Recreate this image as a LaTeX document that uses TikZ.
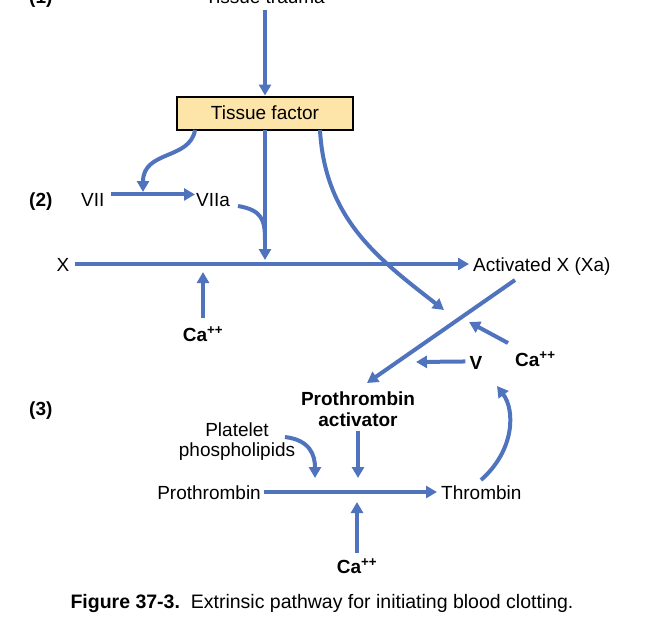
\documentclass[tikz,border=0pt]{standalone}
\usepackage{fontspec}
\setmainfont{Liberation Sans}
\usetikzlibrary{arrows.meta}
\definecolor{bl}{RGB}{80,115,190}
\definecolor{tf}{RGB}{253,228,168}
\begin{document}
\begin{tikzpicture}[x=1pt,y=-1pt,
  ar/.style={draw=bl,line width=4pt,-{Triangle[length=11pt,width=12pt]}},
  ln/.style={draw=bl,line width=4pt},
  lbl/.style={font=\fontsize{19}{21}\selectfont,inner sep=1pt},
  blbl/.style={font=\fontsize{19}{21}\selectfont\bfseries,inner sep=1pt}]
\useasboundingbox (0,0) rectangle (660,627);
\begin{scope}
\clip (0,0) rectangle (660,627);
\node[lbl,anchor=base] (tt) at (265,3) {Tissue trauma};
\node[blbl,anchor=base west] (n1) at (28,3) {(1)};
\end{scope}
\node[draw=black,line width=2pt,fill=tf,minimum width=176pt,minimum height=33pt,lbl] (tf) at (265,113) {Tissue factor};
\coordinate (t0) at (265,10);
\draw[ar] (t0) -- (tf.north);
\node[blbl,anchor=base west] (n2) at (28,206) {(2)};
\node[lbl,anchor=base west] (vii) at (80,206) {VII};
\node[lbl,anchor=base west] (viia) at (195,206) {VIIa};
\draw[ar] (vii.east) ++(5,-5) coordinate (v0) -- (viia.west |- v0);
\coordinate (a) at (195,130);
\draw[ar] (a) .. controls (190,160) and (143,150) .. (143,192);
\node[lbl,anchor=base] (X) at (63,271) {X};
\node[lbl,anchor=base west] (Xa) at (472,271) {Activated X (Xa)};
\coordinate (xs) at (75,264);
\draw[ar] (xs) -- ([xshift=-3pt]Xa.west |- xs);
\coordinate (b) at (265,130);
\draw[ar] (b) -- (265,260);
\coordinate (c) at (238,206);
\draw[ln] (c) .. controls (262,210) and (265,220) .. (265,240);
\node[blbl,anchor=base] (ca1) at (203,341) {Ca\textsuperscript{++}};
\draw[ar] (203,318) -- (203,272);
\coordinate (d) at (320,130);
\draw[ar] (d) .. controls (325,220) and (380,260) .. (444,310);
\coordinate (e) at (515,280);
\draw[ar] (e) -- (367,383);
\node[blbl,anchor=base west] (ca2) at (514,366) {Ca\textsuperscript{++}};
\draw[ar] (508,343) -- (469,322);
\node[blbl,anchor=base] (V) at (476,369) {V};
\draw[ar] (V.west) ++(-3,-1) -- (416,362);
\node[blbl,anchor=base west] (n3) at (28,415) {(3)};
\node[blbl,align=center,font=\fontsize{19}{21}\selectfont\bfseries] (pa) at (358,409) {Prothrombin\\activator};
\draw[ar] (pa.south) ++(0,3) -- (358,478);
\node[lbl,align=center,font=\fontsize{19}{20}\selectfont] (pp) at (237,442) {Platelet\\phospholipids};
\draw[ar] (285,437) .. controls (310,440) and (315,455) .. (315,478);
\node[lbl,anchor=base east] (pt) at (262,499) {Prothrombin};
\node[lbl,anchor=base west] (th) at (440,499) {Thrombin};
\draw[ar] ([xshift=2pt]pt.east |- 0,492) -- ([xshift=-3pt]th.west |- 0,492);
\node[blbl,anchor=base] (ca3) at (357,573) {Ca\textsuperscript{++}};
\draw[ar] (357,553) -- (357,502);
\draw[ar] (481,480) .. controls (515,450) and (515,410) .. (497,386);
\node[anchor=base,font=\fontsize{19.5}{21}\selectfont] (cap) at (322,608) {\textbf{Figure 37-3.}\ \ Extrinsic pathway for initiating blood clotting.};
\end{tikzpicture}
\end{document}
